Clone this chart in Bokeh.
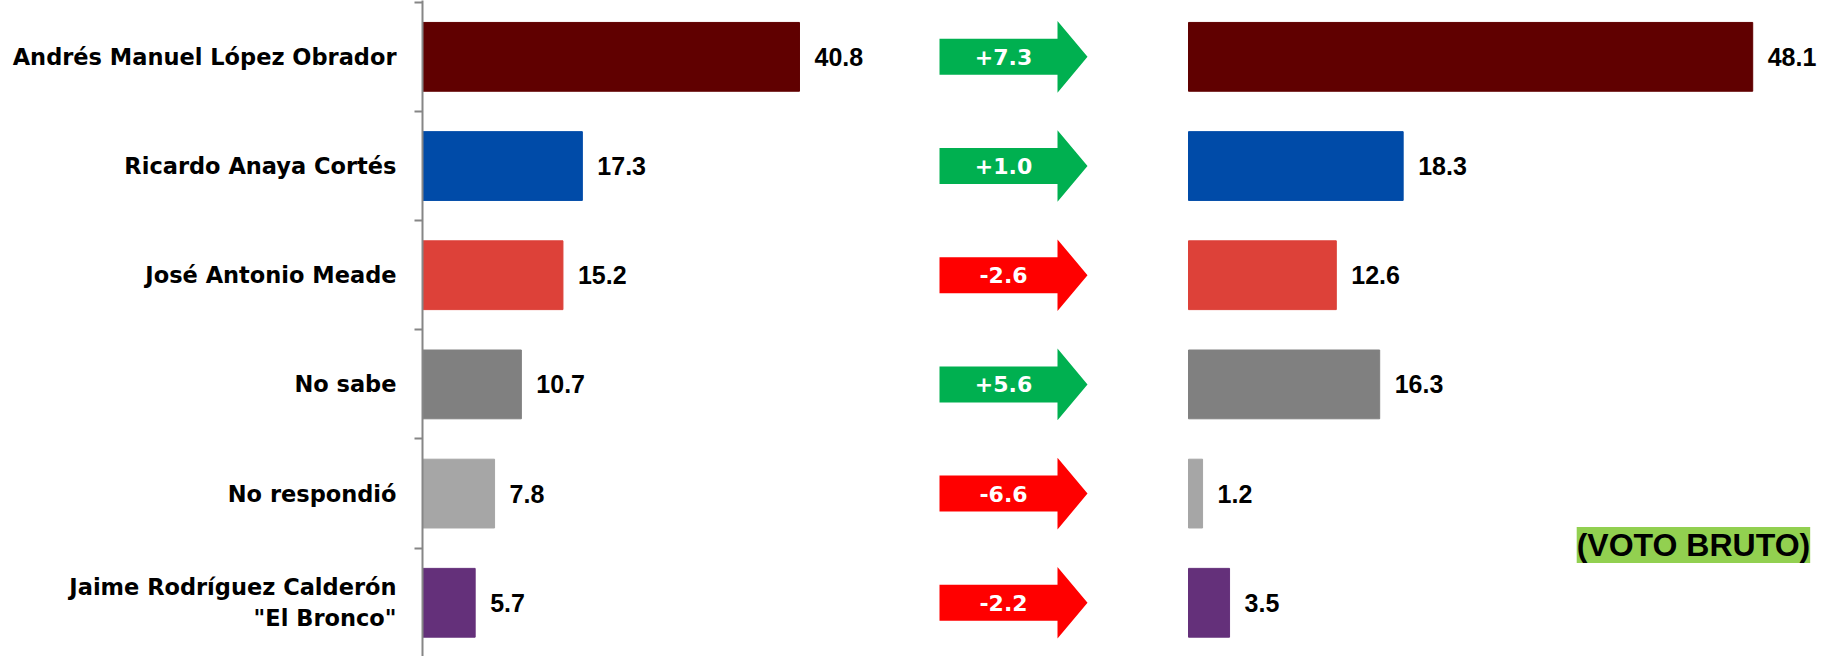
from bokeh.plotting import figure
from bokeh.models import Range1d, FixedTicker, ColumnDataSource, Label
from bokeh.core.properties import value
from bokeh.embed import file_html
from bokeh.resources import INLINE

# ---------------- data ----------------
candidates = [
    "Andrés Manuel López Obrador",
    "Ricardo Anaya Cortés",
    "José Antonio Meade",
    "No sabe",
    "No respondió",
    "Jaime Rodríguez Calderón\n\"El Bronco\"",
]
before = [40.8, 17.3, 15.2, 10.7, 7.8, 5.7]
after = [48.1, 18.3, 12.6, 16.3, 1.2, 3.5]
change = [7.3, 1.0, -2.6, 5.6, -6.6, -2.2]
bar_colors = ["#600000", "#004BA8", "#DD4139", "#808080", "#A6A6A6", "#64307A"]
note = "(VOTO BRUTO)"

# ---------------- layout constants ----------------
W, H = 1835, 656
FRAME_LEFT = 422
FRAME_W = W - FRAME_LEFT
LEFT_PX_PER_UNIT = 9.24
RIGHT_PX_PER_UNIT = 11.73
RIGHT_ZERO_PX = 766          # right panel zero, px from frame left
UP, DOWN = "#00B050", "#FF0000"
AXIS_GRAY = "#868686"

n = len(candidates)
centers = [n - 0.5 - i for i in range(n)]
boundaries = list(range(0, n + 1))

p = figure(
    width=W, height=H, output_backend="svg", toolbar_location=None,
    x_range=Range1d(0, FRAME_W / LEFT_PX_PER_UNIT),
    y_range=Range1d(0.008, 6.016),
    x_axis_location=None,
    min_border_left=FRAME_LEFT, min_border_right=0,
    min_border_top=0, min_border_bottom=0,
)
p.extra_x_ranges = {
    "right": Range1d(-RIGHT_ZERO_PX / RIGHT_PX_PER_UNIT,
                     (FRAME_W - RIGHT_ZERO_PX) / RIGHT_PX_PER_UNIT),
    "px": Range1d(0, FRAME_W),
}
p.outline_line_color = None
p.xgrid.visible = False
p.ygrid.visible = False
p.background_fill_color = "white"
p.border_fill_color = "white"

# y axis with category labels and boundary ticks
ax = p.yaxis[0]
ax.ticker = FixedTicker(ticks=centers, minor_ticks=boundaries)
ax.major_label_overrides = {c: name for c, name in zip(centers, candidates)}
ax.axis_line_color = AXIS_GRAY
ax.axis_line_width = 2
ax.major_tick_line_color = None
ax.major_tick_out = 0
ax.major_tick_in = 0
ax.minor_tick_line_color = AXIS_GRAY
ax.minor_tick_line_width = 2
ax.minor_tick_out = 8
ax.minor_tick_in = 0
ax.major_label_standoff = 18
ax.major_label_text_font = "DejaVu Sans"
ax.major_label_text_font_style = "bold"
ax.major_label_text_font_size = "22.5px"
ax.major_label_text_color = "black"

BAR_H = 0.63

# left bars
src_l = ColumnDataSource(dict(y=centers, v=before, color=bar_colors,
                              label=[f"{v:.1f}" for v in before]))
p.hbar(y="y", left=0, right="v", height=BAR_H, color="color", source=src_l)
p.text(x="v", y="y", text="label", x_offset=15, text_align="left",
       text_baseline="middle", text_font=value("Liberation Sans"),
       text_font_style="bold", text_font_size="25px", text_color="black",
       source=src_l)

# right bars
src_r = ColumnDataSource(dict(y=centers, v=after, color=bar_colors,
                              label=[f"{v:.1f}" for v in after]))
p.hbar(y="y", left=0, right="v", height=BAR_H, color="color", source=src_r,
       x_range_name="right")
p.text(x="v", y="y", text="label", x_offset=15, text_align="left",
       text_baseline="middle", text_font=value("Liberation Sans"),
       text_font_style="bold", text_font_size="25px", text_color="black",
       source=src_r, x_range_name="right")

# change arrows
BODY_X0, BODY_X1, TIP_X = 517, 635, 665
BODY_HALF, HEAD_HALF = 0.165, 0.328
xs, ys, acolors, alabels = [], [], [], []
for yc, c in zip(centers, change):
    xs.append([BODY_X0, BODY_X1, BODY_X1, TIP_X, BODY_X1, BODY_X1, BODY_X0])
    ys.append([yc - BODY_HALF, yc - BODY_HALF, yc - HEAD_HALF, yc,
               yc + HEAD_HALF, yc + BODY_HALF, yc + BODY_HALF])
    acolors.append(UP if c > 0 else DOWN)
    alabels.append(f"{c:+.1f}")
src_a = ColumnDataSource(dict(xs=xs, ys=ys, color=acolors))
p.patches(xs="xs", ys="ys", fill_color="color", line_color=None, source=src_a,
          x_range_name="px")
src_at = ColumnDataSource(dict(x=[(BODY_X0 + BODY_X1) / 2 + 5] * n, y=centers,
                               label=alabels))
p.text(x="x", y="y", text="label", text_align="center", text_baseline="middle",
       text_font=value("DejaVu Sans"), text_font_style="bold",
       text_font_size="22px", text_color="white", source=src_at,
       x_range_name="px")

# note
p.add_layout(Label(x=53.0, y=1.03, x_range_name="right", text=note,
                   text_align="right", text_baseline="middle",
                   text_font="Liberation Sans", text_font_style="bold",
                   text_font_size="32px", text_color="black",
                   background_fill_color="#92D050"))

open("out.html", "w").write(file_html(p, INLINE))
